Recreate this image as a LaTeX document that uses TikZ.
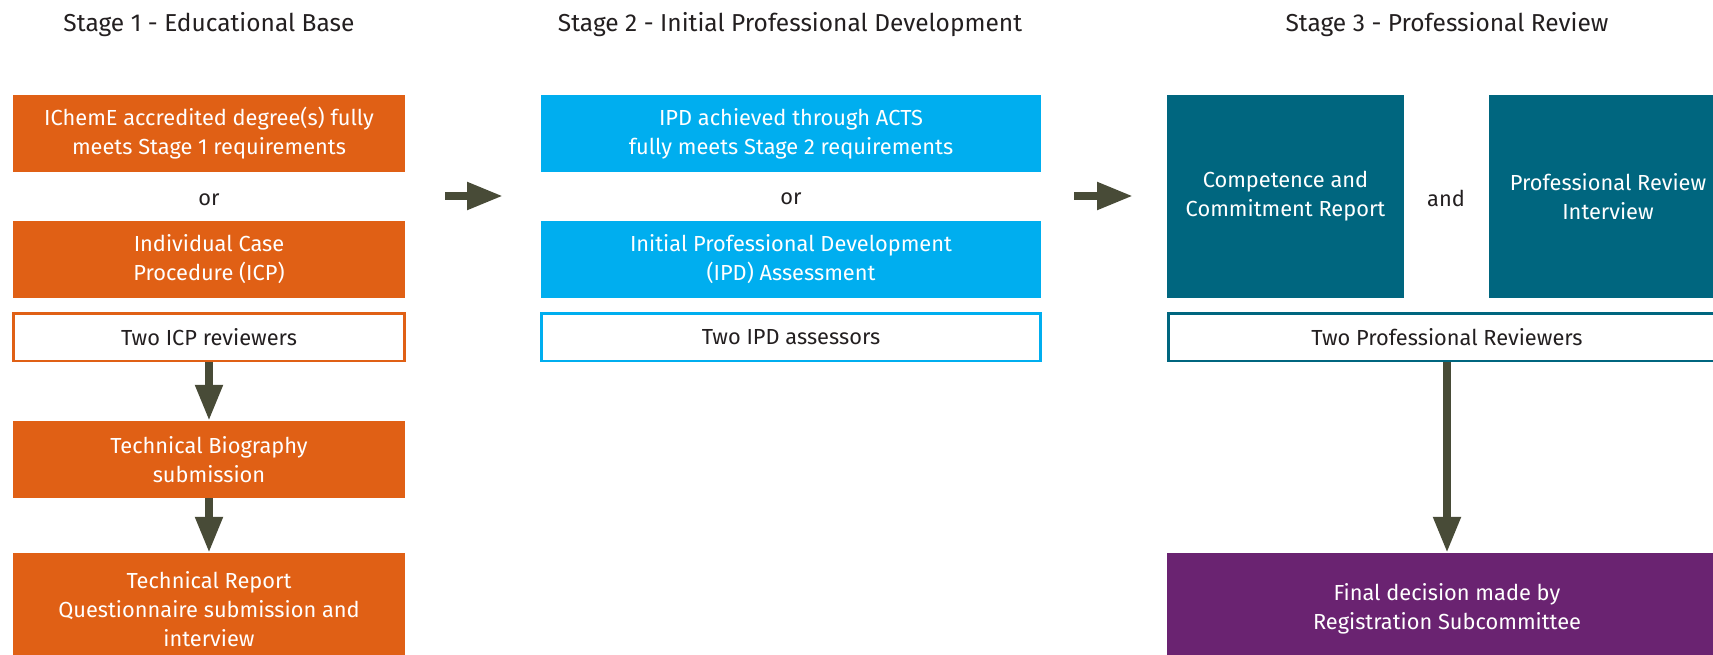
\documentclass[tikz,border=0pt]{standalone}
\usepackage{fontspec}
\setmainfont{Fira Sans}
\usetikzlibrary{arrows.meta}
\definecolor{orangeC}{HTML}{E06015}
\definecolor{blueC}{HTML}{00AEEF}
\definecolor{tealC}{HTML}{00667F}
\definecolor{purpleC}{HTML}{6A2371}
\definecolor{arrowC}{HTML}{484B37}
\definecolor{textC}{HTML}{231F20}
\tikzset{
  bodyfont/.style={font=\fontsize{21.8}{29}\selectfont},
  titlefont/.style={font=\fontsize{24.5}{29}\selectfont},
  fillbox/.style={rectangle, inner sep=0pt, align=center, bodyfont, text=white},
  outlinebox/.style={rectangle, inner sep=0pt, align=center, bodyfont, text=textC, fill=white, line width=2.5pt},
  wordlabel/.style={inner sep=0pt, bodyfont, text=textC},
  stagetitle/.style={inner sep=0pt, titlefont, text=textC, anchor=base},
  flowarrow/.style={draw=arrowC, line width=8pt, -{Triangle[length=36pt, width=26pt]}, arrowC},
}
\begin{document}
\begin{tikzpicture}[x=1pt, y=-1pt]
\useasboundingbox (0,0) rectangle (1713,655);
\clip (0,0) rectangle (1713,655);
% titles
\node[stagetitle] (t1) at (209,32) {Stage 1 - Educational Base};
\node[stagetitle] (t2) at (790,32) {Stage 2 - Initial Professional Development};
\node[stagetitle] (t3) at (1447,32) {Stage 3 - Professional Review};
% stage 1
\node[fillbox, fill=orangeC, minimum width=392pt, minimum height=77pt] (s1a) at (209,133.5) {IChemE accredited degree(s) fully\\meets Stage 1 requirements};
\node[wordlabel] (or1) at (209,200) {or};
\node[fillbox, fill=orangeC, minimum width=392pt, minimum height=77pt] (s1b) at (209,259.5) {Individual Case\\Procedure (ICP)};
\node[outlinebox, draw=orangeC, minimum width=391pt, minimum height=47.5pt] (s1c) at (209,337) {Two ICP reviewers};
\node[fillbox, fill=orangeC, minimum width=392pt, minimum height=77pt] (s1d) at (209,459.5) {Technical Biography\\submission};
\node[fillbox, fill=orangeC, minimum width=392pt, minimum height=112pt] (s1e) at (209,609) {Technical Report\\Questionnaire submission and\\interview};
% stage 2
\node[fillbox, fill=blueC, minimum width=500pt, minimum height=77pt] (s2a) at (791,133.5) {IPD achieved through ACTS\\fully meets Stage 2 requirements};
\node[wordlabel] (or2) at (791,199) {or};
\node[fillbox, fill=blueC, minimum width=500pt, minimum height=77pt] (s2b) at (791,259.5) {Initial Professional Development\\(IPD) Assessment};
\node[outlinebox, draw=blueC, minimum width=499pt, minimum height=47.5pt] (s2c) at (791,337) {Two IPD assessors};
% stage 3
\node[fillbox, fill=tealC, minimum width=237pt, minimum height=203pt] (s3a) at (1285.5,196.5) {Competence and\\Commitment Report};
\node[wordlabel] (and) at (1446,198) {and};
\node[fillbox, fill=tealC, minimum width=238pt, minimum height=203pt] (s3b) at (1608,196.5) {Professional Review\\Interview};
\node[outlinebox, draw=tealC, minimum width=557pt, minimum height=47.5pt] (s3c) at (1447,337) {Two Professional Reviewers};
\node[fillbox, fill=purpleC, minimum width=560pt, minimum height=112pt] (s3d) at (1447,609) {Final decision made by\\Registration Subcommittee};
% arrows
\coordinate (h1a) at (445,196);
\coordinate (h1b) at (503,196);
\coordinate (h2a) at (1074,196);
\coordinate (h2b) at (1133,196);
\draw[flowarrow] (h1a) -- (h1b);
\draw[flowarrow] (h2a) -- (h2b);
\draw[flowarrow] (s1c.south) -- (s1d.north);
\draw[flowarrow] (s1d.south) -- (s1e.north);
\draw[flowarrow] (s3c.south) -- (s3d.north);
\end{tikzpicture}
\end{document}
